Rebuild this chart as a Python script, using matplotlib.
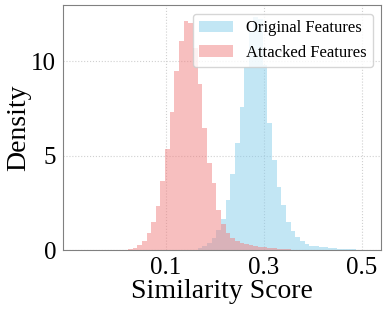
import numpy as np
import matplotlib
matplotlib.use("Agg")
import matplotlib.pyplot as plt

# histogram values (density per bin)
bin_width = 0.0095
original_start = 0.1645
attacked_start = 0.022

original_density = [0.1, 0.2, 0.38, 0.63, 1.06, 1.64, 2.65, 4.0, 5.66, 7.58, 9.68, 11.6,
                    12.35, 12.2, 9.8, 6.7, 4.76, 3.35, 2.38, 1.5, 1.0, 0.71, 0.48, 0.32,
                    0.23, 0.19, 0.16, 0.14, 0.12, 0.1, 0.08, 0.06, 0.04, 0.03, 0.02, 0.01]
attacked_density = [0.05, 0.12, 0.25, 0.49, 0.88, 1.46, 2.33, 3.65, 5.33, 7.32, 9.47, 11.07,
                    12.13, 12.0, 10.67, 8.78, 6.45, 4.62, 3.53, 2.12, 1.38, 0.92, 0.66, 0.48,
                    0.38, 0.30, 0.25, 0.21, 0.18, 0.15, 0.12, 0.09, 0.07, 0.05, 0.03]

x_ticks = [0.1, 0.3, 0.5]
y_ticks = [0, 5, 10]

plt.rcParams["font.family"] = ["Liberation Serif", "DejaVu Serif"]

fig = plt.figure(figsize=(3.89, 3.11), dpi=100)
ax = fig.add_axes([0.1627, 0.196, 0.818, 0.787])

orig_edges = original_start + bin_width * np.arange(len(original_density) + 1)
att_edges = attacked_start + bin_width * np.arange(len(attacked_density) + 1)

ax.hist(orig_edges[:-1], bins=orig_edges, weights=original_density,
        color="skyblue", alpha=0.5, label="Original Features")
ax.hist(att_edges[:-1], bins=att_edges, weights=attacked_density,
        color="lightcoral", alpha=0.5, label="Attacked Features")

ax.set_xlim(-0.11, 0.54)
ax.set_ylim(0, 12.95)
ax.set_xticks(x_ticks)
ax.set_yticks(y_ticks)
ax.set_xticklabels([f"{t:.1f}" for t in x_ticks])
ax.tick_params(labelsize=18, length=0, pad=5)
ax.grid(True, linestyle=":", color="#d0d0d0", linewidth=0.8)
ax.set_axisbelow(True)
for s in ax.spines.values():
    s.set_color("#808080")

ax.set_xlabel("Similarity Score", fontsize=20, labelpad=0)
ax.set_ylabel("Density", fontsize=20, labelpad=0)
ax.legend(loc="upper right", fontsize=12, borderaxespad=0.5)

fig.savefig("out.png", dpi=100)
